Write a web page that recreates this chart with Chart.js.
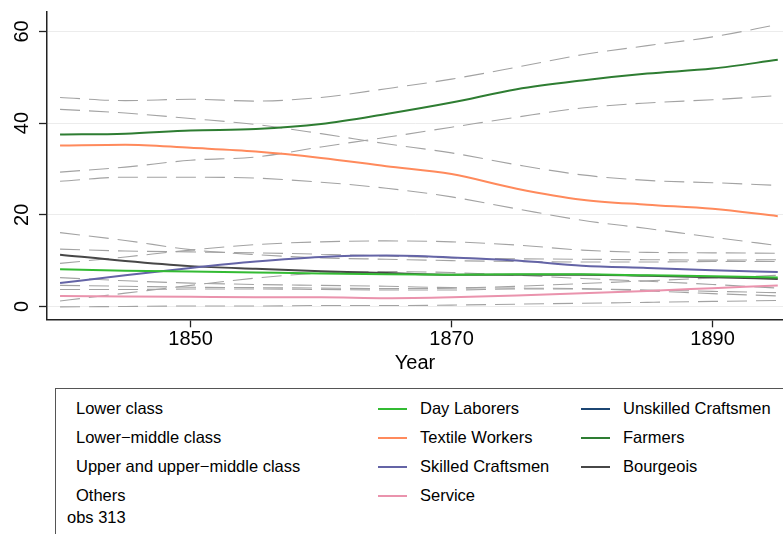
<!DOCTYPE html>
<html>
<head>
<meta charset="utf-8">
<script src="https://cdn.jsdelivr.net/npm/chart.js@4.4.1/dist/chart.umd.min.js"></script>
<style>
  html, body { margin: 0; padding: 0; background: #fff; }
  body { width: 783px; height: 534px; position: relative; overflow: hidden;
         font-family: "Liberation Sans", Arial, Helvetica, sans-serif; color: #000; }
  #wrap { position: absolute; left: 0; top: 0; width: 783px; height: 385px; }
  #legend { position: absolute; left: 55px; top: 388px; width: 760px; height: 170px;
            border: 1px solid #555; box-sizing: border-box; }
  .lg { position: absolute; font-size: 16.5px; line-height: 20px; white-space: nowrap; }
  .sw { position: absolute; height: 2px; width: 29px; }
</style>
</head>
<body>
<div id="wrap"><canvas id="c" width="783" height="385"></canvas></div>
<div id="legend"></div>
<script>
// ---- data ----
const years = [1840, 1845, 1850, 1855, 1860, 1865, 1870, 1875, 1880, 1885, 1890, 1895];
const xTicks = [1850, 1870, 1890];
const yTicks = [0, 20, 40, 60];

const dayLaborers = [8.1, 7.8, 7.6, 7.4, 7.2, 7.0, 6.9, 7.0, 7.0, 6.8, 6.6, 6.3];
const dayLaborersHi = [12.5, 12.1, 11.9, 11.7, 11.4, 11.0, 10.6, 10.4, 10.3, 10.2, 10.1, 10.2];
const dayLaborersLo = [3.7, 3.7, 3.8, 3.8, 3.7, 3.6, 3.6, 3.8, 3.8, 3.6, 3.3, 3.0];

const textileWorkers = [35.1, 35.3, 34.6, 33.8, 32.4, 30.6, 28.9, 25.7, 23.3, 22.2, 21.3, 19.7];
const textileWorkersHi = [43.0, 42.2, 41.0, 39.7, 37.7, 35.5, 33.5, 30.9, 28.7, 27.5, 27.0, 26.4];
const textileWorkersLo = [27.3, 28.2, 28.2, 28.0, 27.1, 25.8, 23.9, 21.3, 18.8, 17.0, 15.1, 13.3];

const skilledCraftsmen = [5.1, 6.8, 8.4, 9.8, 10.8, 11.1, 10.7, 10.0, 8.9, 8.4, 7.9, 7.5];
const skilledCraftsmenHi = [9.4, 10.8, 12.3, 13.5, 14.1, 14.3, 14.1, 13.4, 12.3, 11.8, 11.7, 11.6];
const skilledCraftsmenLo = [1.2, 2.9, 4.6, 6.2, 7.3, 7.6, 7.4, 6.8, 6.1, 5.5, 4.8, 4.0];

const service = [2.3, 2.2, 2.1, 2.0, 2.0, 1.8, 2.0, 2.4, 2.9, 3.4, 4.0, 4.6];
const serviceHi = [4.6, 4.4, 4.2, 4.1, 4.0, 3.9, 4.0, 4.4, 5.0, 5.6, 6.2, 6.8];
const serviceLo = [-0.1, 0.0, 0.1, 0.1, 0.2, 0.2, 0.3, 0.5, 0.7, 0.9, 1.1, 1.3];

const unskilledCraftsmen = [];

const farmers = [37.5, 37.7, 38.4, 38.7, 39.8, 42.0, 44.5, 47.4, 49.3, 50.8, 51.9, 53.8];
const farmersHi = [45.6, 44.9, 45.2, 44.8, 45.6, 47.5, 49.6, 52.2, 54.9, 56.9, 58.8, 61.5];
const farmersLo = [29.3, 30.4, 31.9, 32.6, 34.8, 36.9, 39.1, 41.3, 43.3, 44.4, 45.1, 46.0];

const bourgeois = [11.3, 9.9, 8.8, 8.2, 7.7, 7.3, 6.9, 6.9, 6.9, 6.7, 6.4, 6.0];
const bourgeoisHi = [16.1, 14.4, 12.4, 11.3, 10.6, 10.3, 10.0, 9.8, 9.7, 9.7, 9.8, 9.8];
const bourgeoisLo = [6.3, 5.6, 5.1, 4.8, 4.6, 4.4, 4.1, 4.0, 3.9, 3.4, 2.8, 2.3];

const groupLabels = ["Lower class", "Lower\u2212middle class", "Upper and upper\u2212middle class", "Others"];
const obsNote = "obs 313";

// ---- build ----
const toPts = arr => arr.map((v, i) => ({ x: years[i], y: v }));
const series = [
  { label: "Day Laborers", color: "#33bb33", data: dayLaborers, hi: dayLaborersHi, lo: dayLaborersLo },
  { label: "Textile Workers", color: "#ff8a5c", data: textileWorkers, hi: textileWorkersHi, lo: textileWorkersLo },
  { label: "Skilled Craftsmen", color: "#6464a6", data: skilledCraftsmen, hi: skilledCraftsmenHi, lo: skilledCraftsmenLo },
  { label: "Service", color: "#ea93ad", data: service, hi: serviceHi, lo: serviceLo },
  { label: "Unskilled Craftsmen", color: "#1c4673", data: unskilledCraftsmen, hi: [], lo: [] },
  { label: "Farmers", color: "#2e7d32", data: farmers, hi: farmersHi, lo: farmersLo },
  { label: "Bourgeois", color: "#474747", data: bourgeois, hi: bourgeoisHi, lo: bourgeoisLo }
];

const datasets = [];
series.forEach(s => {
  datasets.push({
    label: s.label, data: toPts(s.data), borderColor: s.color, backgroundColor: s.color,
    borderWidth: 2, pointRadius: 0, cubicInterpolationMode: 'monotone', order: 0
  });
});
series.forEach(s => {
  [s.hi, s.lo].forEach(arr => {
    if (!arr.length) return;
    datasets.push({
      label: s.label + ' CI', data: toPts(arr), borderColor: '#a3a3a3',
      borderWidth: 1.1, borderDash: [20, 9], pointRadius: 0,
      cubicInterpolationMode: 'monotone', order: 1
    });
  });
});

const FONT = "'Liberation Sans', Arial, Helvetica, sans-serif";

new Chart(document.getElementById('c'), {
  type: 'line',
  data: { datasets },
  options: {
    responsive: false, animation: false, devicePixelRatio: 1,
    layout: { padding: { top: 11.7, left: 0, right: 0, bottom: 0 } },
    plugins: { legend: { display: false }, tooltip: { enabled: false } },
    scales: {
      x: {
        type: 'linear', min: 1839, max: 1895.4,
        afterBuildTicks: sc => { sc.ticks = xTicks.map(v => ({ value: v })); },
        afterFit: sc => { sc.height = 65.7; sc.paddingLeft = 0; sc.paddingRight = 0; },
        grid: { drawOnChartArea: false, tickColor: '#222', tickLength: 8, tickWidth: 1.3 },
        border: { display: true, color: '#222', width: 1.5 },
        ticks: { color: '#000', font: { family: FONT, size: 20 }, padding: 0, maxRotation: 0, autoSkip: false,
                 callback: v => String(v) },
        title: { display: true, text: 'Year', color: '#000', font: { family: FONT, size: 20 }, padding: { top: 0, bottom: 10 } }
      },
      y: {
        type: 'linear', min: -2.8, max: 64.3,
        afterBuildTicks: sc => { sc.ticks = yTicks.map(v => ({ value: v })); },
        afterFit: sc => { sc.width = 47; sc.paddingTop = 0; sc.paddingBottom = 0; },
        grid: { color: '#ececec', lineWidth: 1, tickColor: '#222', tickLength: 8, tickWidth: 1.3 },
        border: { display: true, color: '#222', width: 1.5 },
        ticks: { color: '#000', font: { family: FONT, size: 20 }, padding: 5, minRotation: 90, maxRotation: 90, crossAlign: 'center', autoSkip: false,
                 callback: v => String(v) }
      }
    }
  }
});

// ---- legend (HTML, built from the data arrays) ----
const lg = document.getElementById('legend');
const rowTop = [9, 38, 67, 96];   // relative row tops inside box
groupLabels.forEach((t, i) => {
  const d = document.createElement('div'); d.className = 'lg';
  d.style.left = '20px'; d.style.top = rowTop[i] + 'px'; d.textContent = t; lg.appendChild(d);
});
const ob = document.createElement('div'); ob.className = 'lg';
ob.style.left = '11px'; ob.style.top = '118px'; ob.textContent = obsNote; lg.appendChild(ob);
const cols = [{ sw: 322, tx: 364 }, { sw: 525, tx: 567 }];
series.forEach((s, i) => {
  const c = cols[i < 4 ? 0 : 1]; const r = i < 4 ? i : i - 4;
  const sw = document.createElement('div'); sw.className = 'sw';
  sw.style.left = c.sw + 'px'; sw.style.top = (rowTop[r] + 10) + 'px'; sw.style.background = s.color;
  lg.appendChild(sw);
  const d = document.createElement('div'); d.className = 'lg';
  d.style.left = c.tx + 'px'; d.style.top = rowTop[r] + 'px'; d.textContent = s.label; lg.appendChild(d);
});
</script>
</body>
</html>
